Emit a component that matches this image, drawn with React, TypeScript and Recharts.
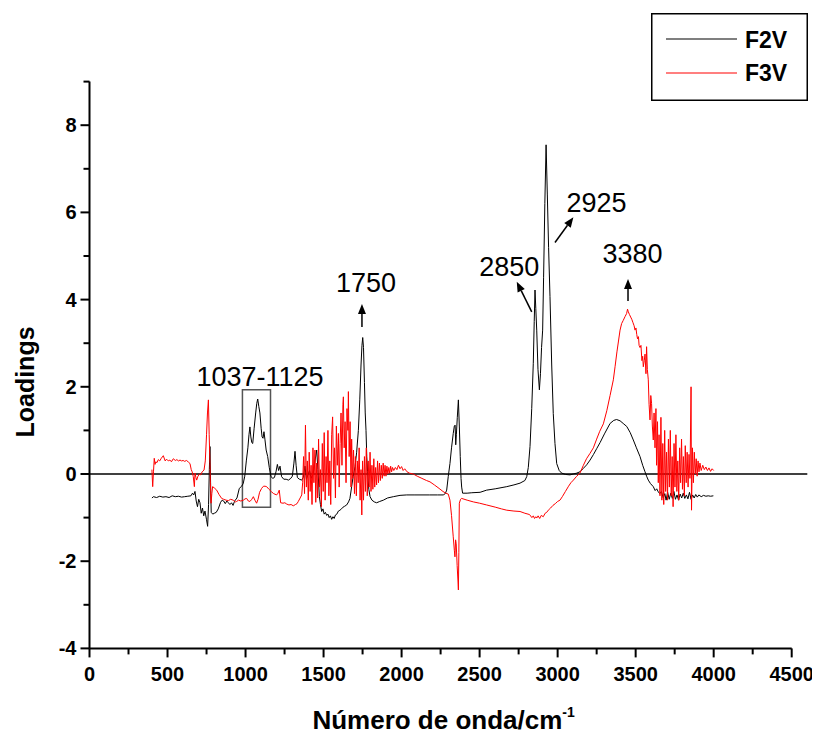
import React from "react";
import {
  LineChart,
  Line,
  XAxis,
  YAxis,
  ReferenceLine,
  ReferenceArea,
  ReferenceDot,
  Legend,
} from "recharts";

const FONT = "'Liberation Sans', Arial, Helvetica, sans-serif";

const X_TICKS = [0, 250, 500, 750, 1000, 1250, 1500, 1750, 2000, 2250, 2500, 2750, 3000, 3250, 3500, 3750, 4000, 4250, 4500];
const Y_TICKS = [-4, -3, -2, -1, 0, 1, 2, 3, 4, 5, 6, 7, 8, 9];

const SERIES_NAMES = ["F2V", "F3V"];
const SERIES_COLORS = ["#000000", "#ff0000"];

// F2V loadings: [wavenumber, loading]
const F2V_POINTS: [number, number][] = [
  [400, -0.55], [410, -0.52], [430, -0.54], [450, -0.51], [470, -0.53], [490, -0.52], [510, -0.54], [530, -0.5],
  [550, -0.52], [570, -0.51], [590, -0.53], [610, -0.52], [630, -0.51], [650, -0.5], [660, -0.44], [668, -0.48],
  [676, -0.4], [684, -0.62], [692, -0.75], [700, -0.58], [708, -0.66], [716, -0.9], [724, -0.78], [732, -0.96],
  [740, -0.85], [750, -1.05], [757, -1.2], [763, -0.7], [768, 0.1], [772, 0.63], [776, -0.2], [780, -0.88],
  [790, -0.92], [800, -0.9], [812, -0.88], [825, -0.8], [840, -0.65], [850, -0.6], [860, -0.62], [870, -0.68],
  [880, -0.62], [890, -0.66], [900, -0.7], [910, -0.66], [920, -0.72], [930, -0.62], [945, -0.55], [960, -0.33],
  [975, -0.28], [985, -0.22], [995, -0.05], [1005, 0.3], [1015, 0.6], [1022, 0.9], [1028, 1.08], [1034, 0.85],
  [1040, 0.72], [1046, 0.7], [1055, 1.05], [1065, 1.4], [1072, 1.62], [1078, 1.72], [1085, 1.55], [1092, 1.4],
  [1100, 1.05], [1106, 0.85], [1112, 0.82], [1118, 0.97], [1124, 0.8], [1132, 0.55], [1142, 0.4], [1152, 0.15],
  [1163, -0.06], [1175, -0.1], [1185, -0.08], [1195, 0.05], [1204, 0.22], [1212, 0.08], [1221, 0.18], [1231, -0.06],
  [1245, -0.12], [1260, -0.12], [1275, -0.14], [1290, -0.1], [1300, -0.05], [1310, 0.25], [1317, 0.52], [1324, 0.2],
  [1332, -0.08], [1345, -0.12], [1360, -0.14], [1370, -0.08], [1381, 0.18], [1390, -0.12], [1400, -0.02], [1410, 0.08],
  [1420, -0.1], [1434, 0.02], [1445, 0.3], [1456, 0.55], [1464, 0.1], [1473, -0.52], [1480, -0.7], [1488, -0.86],
  [1496, -0.8], [1504, -0.92], [1512, -0.88], [1520, -0.95], [1528, -0.92], [1536, -1.0], [1544, -0.96], [1552, -1.04],
  [1560, -0.98], [1568, -1.02], [1576, -0.94], [1585, -0.92], [1595, -0.85], [1605, -0.83], [1615, -0.8], [1625, -0.76],
  [1635, -0.74], [1648, -0.71], [1660, -0.64], [1669, -0.56], [1680, -0.29], [1690, -0.05], [1702, 0.17], [1712, 0.5],
  [1723, 1.0], [1732, 1.7], [1740, 2.5], [1746, 2.95], [1751, 3.13], [1756, 2.9], [1762, 2.1], [1767, 1.4],
  [1772, 1.0], [1777, 0.4], [1782, 0.05], [1790, -0.35], [1798, -0.52], [1810, -0.6], [1825, -0.64], [1840, -0.66],
  [1860, -0.63], [1883, -0.6], [1910, -0.55], [1947, -0.52], [1990, -0.49], [2033, -0.48], [2080, -0.48], [2118, -0.48],
  [2180, -0.48], [2230, -0.48], [2267, -0.48], [2280, -0.45], [2289, -0.37], [2299, -0.06], [2310, 0.24], [2320, 0.6],
  [2331, 0.93], [2338, 1.1], [2343, 1.12], [2347, 0.67], [2351, 0.9], [2357, 1.3], [2364, 1.7], [2370, 1.1],
  [2376, 0.4], [2381, -0.1], [2385, -0.3], [2391, -0.44], [2420, -0.44], [2450, -0.43], [2503, -0.42], [2545, -0.37],
  [2600, -0.34], [2674, -0.29], [2720, -0.25], [2759, -0.21], [2790, -0.15], [2802, -0.06], [2812, 0.15], [2823, 0.63],
  [2834, 1.5], [2844, 2.54], [2850, 3.5], [2855, 4.22], [2860, 3.8], [2866, 3.3], [2874, 2.4], [2883, 1.93],
  [2890, 2.3], [2897, 2.9], [2904, 3.3], [2910, 4.5], [2918, 6.2], [2926, 7.55], [2934, 6.4], [2942, 5.2],
  [2951, 4.07], [2962, 2.5], [2972, 1.39], [2983, 0.7], [2994, 0.24], [3010, 0.08], [3026, 0.02], [3050, -0.01],
  [3079, -0.02], [3100, 0.0], [3122, 0.02], [3143, 0.05], [3165, 0.13], [3186, 0.21], [3208, 0.32], [3230, 0.45],
  [3250, 0.58], [3272, 0.72], [3300, 0.92], [3336, 1.16], [3360, 1.23], [3378, 1.25], [3400, 1.22], [3420, 1.16],
  [3443, 1.09], [3465, 0.95], [3485, 0.78], [3505, 0.6], [3528, 0.4], [3545, 0.2], [3560, 0.05], [3570, -0.05],
  [3581, -0.14], [3595, -0.22], [3613, -0.29], [3625, -0.38], [3635, -0.34], [3645, -0.41], [3655, -0.45], [3665, -0.4],
  [3677, -0.55], [3687, -0.45], [3695, -0.6], [3705, -0.42], [3715, -0.58], [3725, -0.44], [3735, -0.56], [3745, -0.4],
  [3755, -0.58], [3765, -0.48], [3775, -0.6], [3785, -0.46], [3795, -0.55], [3805, -0.44], [3815, -0.56], [3825, -0.48],
  [3835, -0.57], [3845, -0.42], [3855, -0.58], [3865, -0.48], [3875, -0.55], [3885, -0.47], [3895, -0.53], [3905, -0.48],
  [3920, -0.52], [3935, -0.49], [3950, -0.51], [3965, -0.5], [3980, -0.51], [3998, -0.5],
];

// F3V loadings: [wavenumber, loading]
const F3V_POINTS: [number, number][] = [
  [400, 0.1], [405, -0.29], [410, 0.05], [415, 0.36], [420, 0.22], [425, 0.28], [432, 0.26], [441, 0.33],
  [450, 0.3], [460, 0.36], [473, 0.42], [485, 0.3], [494, 0.34], [505, 0.3], [515, 0.32], [525, 0.28],
  [537, 0.35], [550, 0.31], [560, 0.33], [570, 0.3], [580, 0.32], [590, 0.3], [600, 0.31], [610, 0.29],
  [622, 0.31], [635, 0.27], [644, 0.24], [652, 0.1], [658, 0.05], [665, -0.06], [672, -0.29], [676, 0.02],
  [682, -0.08], [687, -0.14], [695, -0.05], [705, 0.0], [713, -0.02], [722, 0.05], [734, 0.09], [742, 0.3],
  [750, 0.9], [756, 1.4], [762, 1.7], [767, 0.9], [772, 0.24], [776, -0.4], [779, -0.67], [784, -0.45],
  [789, -0.29], [800, -0.32], [815, -0.37], [830, -0.47], [847, -0.56], [860, -0.58], [875, -0.6], [890, -0.61],
  [905, -0.58], [921, -0.6], [935, -0.64], [943, -0.63], [955, -0.6], [970, -0.62], [986, -0.6], [997, -0.57],
  [1007, -0.56], [1018, -0.62], [1028, -0.63], [1040, -0.58], [1050, -0.52], [1060, -0.6], [1071, -0.67], [1080, -0.58],
  [1090, -0.42], [1103, -0.33], [1115, -0.28], [1125, -0.28], [1135, -0.29], [1150, -0.35], [1167, -0.41], [1180, -0.45],
  [1199, -0.48], [1208, -0.44], [1216, -0.37], [1225, -0.66], [1240, -0.67], [1252, -0.66], [1264, -0.69], [1278, -0.71],
  [1292, -0.7], [1306, -0.73], [1320, -0.7], [1330, -0.68], [1338, -0.63], [1350, -0.55], [1360, -0.48], [1366, -0.2],
  [1372, 0.4], [1378, -0.45], [1384, 1.12], [1390, -0.3], [1396, 0.3], [1402, -0.6], [1408, 0.5], [1414, -0.4],
  [1420, 0.2], [1426, -0.7], [1432, 0.6], [1438, -0.2], [1445, 0.55], [1450, -0.65], [1456, 0.25], [1462, -0.55],
  [1468, 0.8], [1474, -0.3], [1480, 0.1], [1486, -0.75], [1492, 0.7], [1498, -0.4], [1504, 0.95], [1510, -0.6],
  [1516, 0.4], [1522, -0.2], [1528, 1.0], [1534, -0.5], [1540, 0.3], [1546, -0.7], [1552, 0.9], [1558, 1.31],
  [1564, -0.1], [1570, 0.6], [1576, -0.55], [1582, 1.1], [1588, 0.2], [1595, 0.93], [1600, -0.3], [1606, 0.7],
  [1612, 1.4], [1618, 0.2], [1624, 1.6], [1627, 1.77], [1632, 0.6], [1638, 1.2], [1644, -0.2], [1650, 1.5],
  [1656, 1.0], [1659, 1.89], [1664, 0.4], [1670, 1.2], [1676, -0.3], [1680, 0.8], [1686, -0.1], [1692, 0.55],
  [1698, -0.45], [1704, 0.4], [1710, -0.5], [1716, 0.3], [1722, -0.2], [1728, 0.6], [1734, -0.6], [1740, 0.1],
  [1745, -0.94], [1750, 0.3], [1756, -0.6], [1762, 0.4], [1768, -0.4], [1774, 0.6], [1780, -0.5], [1786, 0.3],
  [1792, -0.3], [1798, 0.5], [1804, -0.4], [1810, 0.2], [1816, -0.35], [1822, 0.35], [1828, -0.3], [1834, 0.15],
  [1840, -0.25], [1846, 0.3], [1852, -0.2], [1858, 0.25], [1864, -0.15], [1870, 0.2], [1876, -0.1], [1882, 0.25],
  [1888, -0.05], [1894, 0.2], [1900, -0.05], [1906, 0.18], [1912, 0.0], [1918, 0.15], [1924, 0.02], [1930, 0.18],
  [1936, 0.05], [1942, 0.15], [1950, 0.08], [1960, 0.15], [1970, 0.1], [1980, 0.2], [1990, 0.12], [2000, 0.17],
  [2010, 0.08], [2020, 0.12], [2035, 0.05], [2050, 0.02], [2075, 0.0], [2100, -0.05], [2130, -0.1], [2160, -0.15],
  [2182, -0.18], [2210, -0.25], [2240, -0.33], [2265, -0.4], [2283, -0.44], [2299, -0.46], [2310, -0.6], [2320, -0.95],
  [2331, -1.44], [2338, -1.75], [2342, -1.9], [2346, -1.51], [2350, -1.6], [2356, -2.1], [2362, -2.5], [2364, -2.66],
  [2367, -1.8], [2370, -0.67], [2378, -0.58], [2385, -0.56], [2420, -0.6], [2460, -0.64], [2500, -0.67], [2545, -0.71],
  [2600, -0.76], [2640, -0.8], [2674, -0.83], [2720, -0.85], [2759, -0.86], [2790, -0.9], [2820, -0.93], [2835, -1.0],
  [2844, -0.96], [2852, -1.02], [2860, -0.98], [2866, -1.01], [2875, -0.96], [2885, -1.02], [2895, -0.95], [2908, -0.98],
  [2920, -0.9], [2930, -0.88], [2940, -0.83], [2955, -0.78], [2970, -0.72], [2985, -0.68], [3000, -0.63], [3015, -0.6],
  [3030, -0.52], [3050, -0.4], [3070, -0.28], [3085, -0.2], [3101, -0.14], [3120, -0.06], [3143, 0.02], [3165, 0.2],
  [3185, 0.35], [3207, 0.47], [3229, 0.6], [3250, 0.8], [3270, 0.98], [3293, 1.15], [3315, 1.45], [3336, 1.8],
  [3357, 2.16], [3368, 2.46], [3380, 2.8], [3390, 3.05], [3400, 3.3], [3410, 3.45], [3420, 3.52], [3432, 3.61],
  [3442, 3.68], [3448, 3.78], [3453, 3.72], [3460, 3.66], [3468, 3.6], [3475, 3.55], [3482, 3.48], [3490, 3.4],
  [3496, 3.3], [3502, 3.35], [3507, 3.2], [3512, 3.1], [3518, 3.15], [3522, 2.95], [3528, 2.9], [3534, 2.95],
  [3540, 2.6], [3545, 2.7], [3549, 2.46], [3555, 2.6], [3560, 2.75], [3566, 2.3], [3570, 2.92], [3575, 2.4],
  [3581, 2.16], [3586, 1.6], [3592, 1.24], [3597, 1.8], [3602, 1.62], [3607, 1.1], [3613, 0.78], [3618, 1.4],
  [3624, 0.6], [3630, 1.5], [3634, 0.2], [3640, 1.2], [3645, -0.2], [3650, 0.9], [3656, -0.5], [3662, 1.3],
  [3668, -0.6], [3674, 0.7], [3680, -0.7], [3686, 1.0], [3692, -0.4], [3698, 0.5], [3704, -0.6], [3710, 0.8],
  [3716, -0.3], [3722, 1.0], [3728, -0.5], [3734, 0.4], [3740, -0.75], [3746, 0.7], [3752, -0.3], [3758, 0.9],
  [3764, -0.4], [3770, 0.3], [3776, -0.6], [3782, 0.6], [3788, -0.2], [3794, 0.8], [3800, -0.35], [3806, 0.4],
  [3812, -0.5], [3818, 0.65], [3824, -0.2], [3830, 0.5], [3836, -0.3], [3842, 0.45], [3848, -0.1], [3855, 2.0],
  [3858, -0.83], [3864, 0.6], [3870, -0.2], [3876, 0.5], [3882, 0.0], [3888, 0.35], [3894, -0.05], [3900, 0.3],
  [3906, 0.05], [3912, 0.25], [3920, 0.08], [3930, 0.2], [3940, 0.1], [3950, 0.16], [3960, 0.08], [3970, 0.14],
  [3980, 0.06], [3990, 0.12], [4000, 0.08],
];

// Annotation labels: [text, x, baseline y]
const LABELS: [string, number, number][] = [
  ["1037-1125", 1093, 2.02],
  ["1750", 1772, 4.17],
  ["2850", 2690, 4.53],
  ["2925", 3249, 6.02],
  ["3380", 3480, 4.83],
];

// Annotation arrows: [fromX, fromY, toX, toY]
const ARROWS: [number, number, number, number][] = [
  [1746, 3.37, 1746, 3.9],
  [2834, 3.72, 2738, 4.41],
  [2983, 5.31, 3101, 5.89],
  [3451, 3.97, 3451, 4.47],
];

// Highlight box: [x1, x2, y1, y2]
const HIGHLIGHT: [number, number, number, number] = [980, 1160, -0.76, 1.93];

const f2vData = F2V_POINTS.map(([x, y]) => ({ x, y }));
const f3vData = F3V_POINTS.map(([x, y]) => ({ x, y }));

const XTick = (props: any) => {
  const { x, y, payload } = props;
  const major = payload.value % 500 === 0;
  return (
    <g>
      <line x1={x} y1={y} x2={x} y2={y + (major ? 9 : 6)} stroke="#000" strokeWidth={2} />
      {major && (
        <text x={x} y={y + 33} textAnchor="middle" fontSize={20} fontWeight="bold" fontFamily={FONT} fill="#000">
          {payload.value}
        </text>
      )}
    </g>
  );
};

const YTick = (props: any) => {
  const { x, y, payload } = props;
  const major = payload.value % 2 === 0;
  return (
    <g>
      <line x1={x} y1={y} x2={x - (major ? 9 : 6)} y2={y} stroke="#000" strokeWidth={2} />
      {major && (
        <text x={x - 13} y={y} textAnchor="end" dominantBaseline="central" fontSize={20} fontWeight="bold" fontFamily={FONT} fill="#000">
          {payload.value}
        </text>
      )}
    </g>
  );
};

const XLabel = (props: any) => {
  const vb = props.viewBox || {};
  const cx = vb.x + vb.width / 2 + 3;
  return (
    <text x={cx} y={vb.y + 81} textAnchor="middle" fontSize={26} fontWeight="bold" fontFamily={FONT} fill="#000">
      Número de onda/cm
      <tspan dy={-12} fontSize={14}>-1</tspan>
    </text>
  );
};

const YLabel = (props: any) => {
  const vb = props.viewBox || {};
  const cy = vb.y + vb.height / 2 + 17;
  const cx = 17;
  return (
    <text
      x={cx}
      y={cy}
      transform={`rotate(-90 ${cx} ${cy})`}
      textAnchor="middle"
      dominantBaseline="central"
      fontSize={25}
      fontWeight="bold"
      fontFamily={FONT}
      fill="#000"
    >
      Loadings
    </text>
  );
};

const Arrow = (props: any) => {
  const { x1, y1, x2, y2 } = props;
  const dx = x2 - x1;
  const dy = y2 - y1;
  const len = Math.sqrt(dx * dx + dy * dy) || 1;
  const ux = dx / len;
  const uy = dy / len;
  const head = 10;
  const half = 4;
  const bx = x2 - ux * head;
  const by = y2 - uy * head;
  const p1 = `${x2},${y2}`;
  const p2 = `${bx - uy * half},${by + ux * half}`;
  const p3 = `${bx + uy * half},${by - ux * half}`;
  return (
    <g>
      <line x1={x1} y1={y1} x2={bx} y2={by} stroke="#000" strokeWidth={1.5} />
      <polygon points={`${p1} ${p2} ${p3}`} fill="#000" />
    </g>
  );
};

const LegendContent = (props: any) => {
  const payload = props.payload || [];
  return (
    <svg width={157} height={88} style={{ display: "block" }}>
      <rect x={0.75} y={0.75} width={155.5} height={86.5} fill="#fff" stroke="#000" strokeWidth={1.5} />
      {payload.map((entry: any, i: number) => (
        <g key={entry.value}>
          <line x1={15} y1={26 + i * 34} x2={86} y2={26 + i * 34} stroke={entry.color} strokeWidth={1.2} />
          <text x={94} y={35 + i * 33} fontSize={23} fontWeight="bold" fontFamily={FONT} fill="#000">
            {entry.value}
          </text>
        </g>
      ))}
    </svg>
  );
};

export default function App() {
  return (
    <div style={{ width: 812, height: 732, background: "#fff" }}>
      <LineChart width={812} height={732} margin={{ top: 73.6, right: 28.3, bottom: 0, left: 0 }}>
        <XAxis
          type="number"
          dataKey="x"
          domain={[0, 4500]}
          ticks={X_TICKS}
          interval={0}
          height={91.6}
          tickSize={0}
          tickMargin={0}
          tickLine={false}
          axisLine={{ stroke: "#000", strokeWidth: 2 }}
          tick={<XTick />}
          allowDataOverflow
          label={{ content: (p: any) => <XLabel {...p} /> }}
        />
        <YAxis
          type="number"
          dataKey="y"
          domain={[-4, 9]}
          ticks={Y_TICKS}
          interval={0}
          width={81.5}
          tickSize={0}
          tickMargin={0}
          tickLine={false}
          axisLine={{ stroke: "#000", strokeWidth: 2 }}
          tick={<YTick />}
          allowDataOverflow
          label={{ content: (p: any) => <YLabel {...p} /> }}
        />
        <Legend
          layout="horizontal"
          verticalAlign="middle"
          align="center"
          wrapperStyle={{ position: "absolute", top: 5, left: 643, width: 157, height: 88 }}
          content={<LegendContent />}
        />
        <ReferenceLine
          segment={[{ x: 0, y: 0 }, { x: 4600, y: 0 }]}
          ifOverflow="visible"
          stroke="#000"
          strokeWidth={1.5}
        />
        <Line
          data={f2vData}
          dataKey="y"
          name={SERIES_NAMES[0]}
          stroke={SERIES_COLORS[0]}
          strokeWidth={1}
          dot={false}
          type="linear"
          isAnimationActive={false}
        />
        <Line
          data={f3vData}
          dataKey="y"
          name={SERIES_NAMES[1]}
          stroke={SERIES_COLORS[1]}
          strokeWidth={1}
          dot={false}
          type="linear"
          isAnimationActive={false}
        />
        <ReferenceArea
          x1={HIGHLIGHT[0]}
          x2={HIGHLIGHT[1]}
          y1={HIGHLIGHT[2]}
          y2={HIGHLIGHT[3]}
          fill="none"
          fillOpacity={0}
          stroke="#555"
          strokeWidth={1.5}
          ifOverflow="visible"
        />
        {ARROWS.map(([fx, fy, tx, ty], i) => (
          <ReferenceLine
            key={`arrow-${i}`}
            segment={[{ x: fx, y: fy }, { x: tx, y: ty }]}
            ifOverflow="visible"
            shape={(p: any) => <Arrow {...p} />}
          />
        ))}
        {LABELS.map(([text, x, y]) => (
          <ReferenceDot
            key={text}
            x={x}
            y={y}
            r={0}
            ifOverflow="visible"
            shape={(p: any) => (
              <text x={p.cx} y={p.cy} textAnchor="middle" fontSize={27} fontFamily={FONT} fill="#000">
                {text}
              </text>
            )}
          />
        ))}
      </LineChart>
    </div>
  );
}
